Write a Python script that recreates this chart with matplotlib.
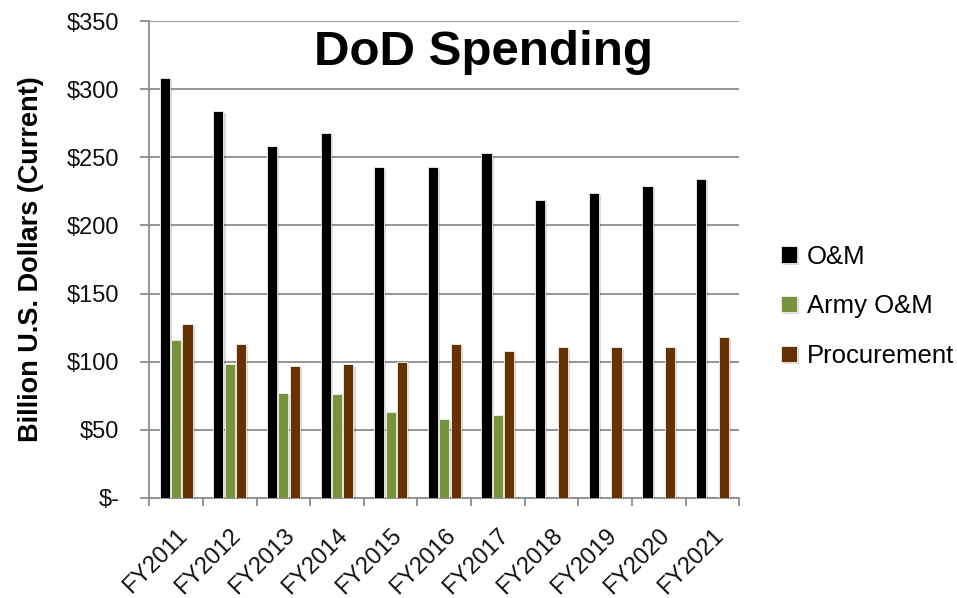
import matplotlib
matplotlib.use("Agg")
import matplotlib.pyplot as plt
import matplotlib.patheffects as pe
import numpy as np

years = ["FY2011", "FY2012", "FY2013", "FY2014", "FY2015", "FY2016",
         "FY2017", "FY2018", "FY2019", "FY2020", "FY2021"]
om = [308, 284, 258, 268, 243, 243, 253, 219, 224, 229, 234]
army_om = [116, 98, 77, 76, 63, 58, 61, 0, 0, 0, 0]
procurement = [128, 113, 97, 98, 100, 113, 108, 111, 111, 111, 118]
ytick_vals = [0, 50, 100, 150, 200, 250, 300, 350]
ytick_labels = ["$-", "$50", "$100", "$150", "$200", "$250", "$300", "$350"]

plt.rcParams['font.family'] = ['Liberation Sans', 'DejaVu Sans']

fig = plt.figure(figsize=(9.57, 5.98), dpi=100)
ax = fig.add_axes([149.3 / 957, 1 - 498 / 598, 590 / 957, 477 / 598])

x = np.arange(len(years))
slot = 0.212
w = 0.19
shadow = [pe.SimplePatchShadow(offset=(1.5, -1.5), alpha=0.15, shadow_rgbFace='k'), pe.Normal()]
series = [(om, "#000000", "O&M"), (army_om, "#77933C", "Army O&M"), (procurement, "#663300", "Procurement")]
for i, (vals, col, lab) in enumerate(series):
    bars = ax.bar(x + (i - 1) * slot, vals, width=w, color=col, label=lab,
                  edgecolor="#f0f0f0", linewidth=0.6, zorder=3)
    for b in bars:
        b.set_path_effects(shadow)

ax.set_xlim(-0.5, len(years) - 0.5)
ax.set_ylim(0, 350)
ax.set_yticks(ytick_vals)
ax.set_yticklabels(ytick_labels, fontsize=17, color="#111111")
ax.yaxis.grid(True, color="#8c8c8c", linewidth=1.3, zorder=0)
ax.set_axisbelow(True)

ax.set_xticks(x)
ax.set_xticklabels(years, rotation=45, ha="right", rotation_mode="anchor", fontsize=17, color="#111111")
ax.set_xticks(np.arange(-0.5, len(years) + 0.5, 1), minor=True)
ax.tick_params(axis="x", which="major", length=0, pad=19)
ax.tick_params(axis="x", which="minor", length=6, color="#8c8c8c", width=1.3)
ax.tick_params(axis="y", length=6.5, color="#8c8c8c", width=1.3, pad=15)

for s in ["top", "right"]:
    ax.spines[s].set_visible(False)
for s in ["left", "bottom"]:
    ax.spines[s].set_color("#8c8c8c")
    ax.spines[s].set_linewidth(1.3)

ax.text(0.5656, 0.908, "DoD Spending", transform=ax.transAxes, ha="center", va="baseline",
        fontsize=35.5, fontweight="bold", color="black")

ax.set_ylabel("Billion U.S. Dollars (Current)", fontsize=19.5, fontweight="bold")
ax.yaxis.set_label_coords(-0.178, 0.5)

leg = ax.legend(loc="center left", bbox_to_anchor=(1.032, 0.402), frameon=False, fontsize=18.5,
                handlelength=0.6, handleheight=0.6, handletextpad=0.4, labelspacing=1.0)

fig.savefig("out.png", dpi=100)
